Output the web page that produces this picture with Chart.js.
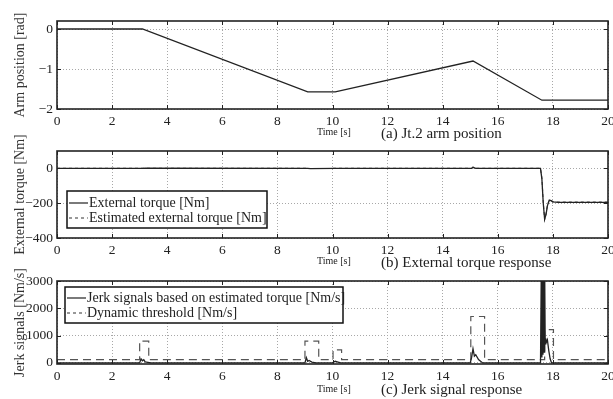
<!DOCTYPE html>
<html><head><meta charset="utf-8">
<script src="https://cdn.jsdelivr.net/npm/chart.js@4/dist/chart.umd.min.js"></script>
<style>
body{margin:0;background:#fff;width:613px;height:399px;overflow:hidden;position:relative;font-family:'Liberation Serif','Times New Roman',serif;}
canvas{position:absolute;left:0;top:0;}
.t{position:absolute;white-space:nowrap;color:#222;line-height:1;}
</style></head><body>
<canvas id="c1" width="613" height="399"></canvas>
<canvas id="c2" width="613" height="399"></canvas>
<canvas id="c3" width="613" height="399"></canvas>
<div class="t" style="left:317px;top:127px;font-size:10px">Time [s]</div>
<div class="t" style="left:381px;top:126px;font-size:15px">(a) Jt.2 arm position</div>
<div class="t" style="left:317px;top:256px;font-size:10px">Time [s]</div>
<div class="t" style="left:381px;top:255px;font-size:15px">(b) External torque response</div>
<div class="t" style="left:317px;top:384px;font-size:10px">Time [s]</div>
<div class="t" style="left:381px;top:382px;font-size:15px">(c) Jerk signal response</div>
<script>
// ---- data ----
const xTicks = [0,2,4,6,8,10,12,14,16,18,20];

const armTime = [0, 3.1, 9.1, 10.1, 15.1, 17.6, 20];
const armPos  = [0, 0, -1.57, -1.57, -0.8, -1.78, -1.78];
const armTicks = [-2, -1, 0];

const torqueTime = [0, 3.1, 3.2, 9.1, 9.2, 10.1, 15.05, 15.1, 15.2, 17.55, 17.6, 17.65, 17.7, 17.75, 17.8, 17.87, 17.93, 18.0, 18.2, 20];
const extTorque  = [0, 0, 1, 0, -1, 0, 0, 6, 0, 0, -60, -200, -292, -265, -215, -182, -185, -192, -195, -195];
const estTorque  = [0, 0, 1, 0, -1, 0, 0, 7, 0, 0, -55, -195, -294, -262, -212, -180, -184, -191, -194, -194];
const torqueTicks = [-400, -200, 0];

const jerkTime = [0, 3.0, 3.05, 3.1, 3.15, 3.2, 3.3, 3.4, 9.0, 9.05, 9.1, 9.15, 9.25, 9.4, 10.0, 10.1, 10.2, 10.3, 15.0, 15.05, 15.1, 15.15, 15.2, 15.3, 15.45, 17.55, 17.58, 17.6, 17.62, 17.64, 17.66, 17.68, 17.7, 17.72, 17.74, 17.76, 17.8, 17.85, 17.9, 17.95, 20];
const jerk     = [0, 0, 150, 80, 120, 40, 20, 0, 0, 190, 60, 90, 30, 0, 0, 60, 30, 0, 0, 200, 520, 250, 300, 120, 0, 0, 3600, 200, 3600, 300, 3600, 400, 3600, 700, 900, 750, 850, 450, 150, 0, 0];
const thrTime  = [0, 3.0, 3.0, 3.33, 3.33, 9.0, 9.0, 9.5, 9.5, 10.02, 10.02, 10.33, 10.33, 15.02, 15.02, 15.52, 15.52, 17.7, 17.7, 18.02, 18.02, 20];
const threshold= [120, 120, 800, 800, 120, 120, 800, 800, 120, 120, 480, 480, 120, 120, 1700, 1700, 120, 120, 1220, 1220, 120, 120];
const jerkTicks = [0, 1000, 2000, 3000];

// ---- helpers ----
const FONT = "'Liberation Serif','Times New Roman',serif";
const INK = '#222';
const pts = (xs, ys) => xs.map((x, i) => ({x, y: ys[i]}));
const fmt = v => (v < 0 ? '\u2212' + Math.abs(v) : String(v));

const framePlugin = {
  id: 'frame',
  afterDatasetsDraw(chart) {
    const {ctx, chartArea: a, scales} = chart;
    ctx.save();
    ctx.strokeStyle = INK;
    ctx.lineWidth = 1;
    const L = 4;
    ctx.beginPath();
    scales.x.ticks.forEach(t => {
      const px = Math.round(scales.x.getPixelForValue(t.value)) + 0.5;
      ctx.moveTo(px, a.bottom); ctx.lineTo(px, a.bottom - L);
      ctx.moveTo(px, a.top); ctx.lineTo(px, a.top + L);
    });
    scales.y.ticks.forEach(t => {
      const py = Math.round(scales.y.getPixelForValue(t.value)) + 0.5;
      ctx.moveTo(a.left, py); ctx.lineTo(a.left + L, py);
      ctx.moveTo(a.right, py); ctx.lineTo(a.right - L, py);
    });
    ctx.stroke();
    ctx.lineWidth = 1.6;
    ctx.strokeRect(a.left, a.top, a.right - a.left, a.bottom - a.top);
    // boxed legend
    const lg = chart.options.plugins.boxLegend;
    if (lg) {
      ctx.fillStyle = '#fff';
      ctx.fillRect(lg.x, lg.y, lg.w, lg.h);
      ctx.lineWidth = 1.5;
      ctx.strokeStyle = '#111';
      ctx.strokeRect(lg.x, lg.y, lg.w, lg.h);
      ctx.font = lg.size + 'px ' + FONT;
      ctx.textBaseline = 'middle';
      ctx.textAlign = 'left';
      chart.data.datasets.forEach((ds, i) => {
        const yy = lg.y + lg.rowY[i];
        ctx.beginPath();
        ctx.setLineDash(ds.borderDash ? lg.dash : []);
        ctx.strokeStyle = ds.borderColor;
        ctx.lineWidth = 1.2;
        ctx.moveTo(lg.x + 2, yy); ctx.lineTo(lg.x + 21, yy);
        ctx.stroke();
        ctx.setLineDash([]);
        ctx.fillStyle = INK;
        ctx.fillText(ds.label, lg.x + 22, yy);
      });
    }
    ctx.restore();
  }
};

function makeChart(id, datasets, yMin, yMax, yTicks, yTitle, top, bottom, legend) {
  const xH = 24;
  return new Chart(document.getElementById(id), {
    type: 'line',
    data: {datasets},
    options: {
      responsive: false, animation: false, events: [],
      layout: {padding: {top: top, bottom: 399 - bottom - xH, left: 0, right: 5}},
      elements: {point: {radius: 0}, line: {tension: 0}},
      plugins: {legend: {display: false}, tooltip: {enabled: false}, boxLegend: legend},
      scales: {
        x: {
          type: 'linear', min: 0, max: 20, clip: false,
          afterBuildTicks: ax => { ax.ticks = xTicks.map(v => ({value: v})); },
          afterFit: ax => { ax.height = xH; ax.paddingLeft = 0; ax.paddingRight = 0; },
          ticks: {autoSkip: false, maxRotation: 0, padding: 4, color: INK, font: {family: FONT, size: 13.5}},
          grid: {drawTicks: false, color: '#a8a8a8', lineWidth: 1},
          border: {display: false, dash: [1, 2]}
        },
        y: {
          type: 'linear', min: yMin, max: yMax, clip: false,
          afterBuildTicks: ax => { ax.ticks = yTicks.map(v => ({value: v})); },
          afterFit: ax => { ax.width = 57; ax.paddingTop = 0; ax.paddingBottom = 0; },
          ticks: {padding: 4, color: INK, font: {family: FONT, size: 13.5}, callback: v => fmt(v)},
          grid: {drawTicks: false, color: '#a8a8a8', lineWidth: 1},
          border: {display: false, dash: [1, 2]},
          title: {display: true, text: yTitle, color: '#333', font: {family: FONT, size: 14}, padding: {top: 12, bottom: 0}}
        }
      }
    },
    plugins: [framePlugin]
  });
}

makeChart('c1', [
  {label: 'Arm position', data: pts(armTime, armPos), borderColor: INK, borderWidth: 1.3}
], -2, 0.2, armTicks, 'Arm position [rad]', 21, 109, null);

makeChart('c2', [
  {label: 'External torque [Nm]', data: pts(torqueTime, extTorque), borderColor: INK, borderWidth: 1.3},
  {label: 'Estimated external torque [Nm]', data: pts(torqueTime, estTorque), borderColor: '#555', borderWidth: 1.1, borderDash: [3, 3]}
], -400, 100, torqueTicks, 'External torque [Nm]', 151, 238,
  {x: 67, y: 191, w: 200, h: 37, rowY: [12, 27], size: 14, dash: [3, 3]});

makeChart('c3', [
  {label: 'Jerk signals based on estimated torque [Nm/s]', data: pts(jerkTime, jerk), borderColor: INK, borderWidth: 1.3},
  {label: 'Dynamic threshold [Nm/s]', data: pts(thrTime, threshold), borderColor: '#555', borderWidth: 1.2, borderDash: [8, 5]}
], -40, 3000, jerkTicks, 'Jerk signals [Nm/s]', 281, 364,
  {x: 65, y: 287, w: 278, h: 36, rowY: [11, 26], size: 14, dash: [3, 3]});
</script>
</body></html>
